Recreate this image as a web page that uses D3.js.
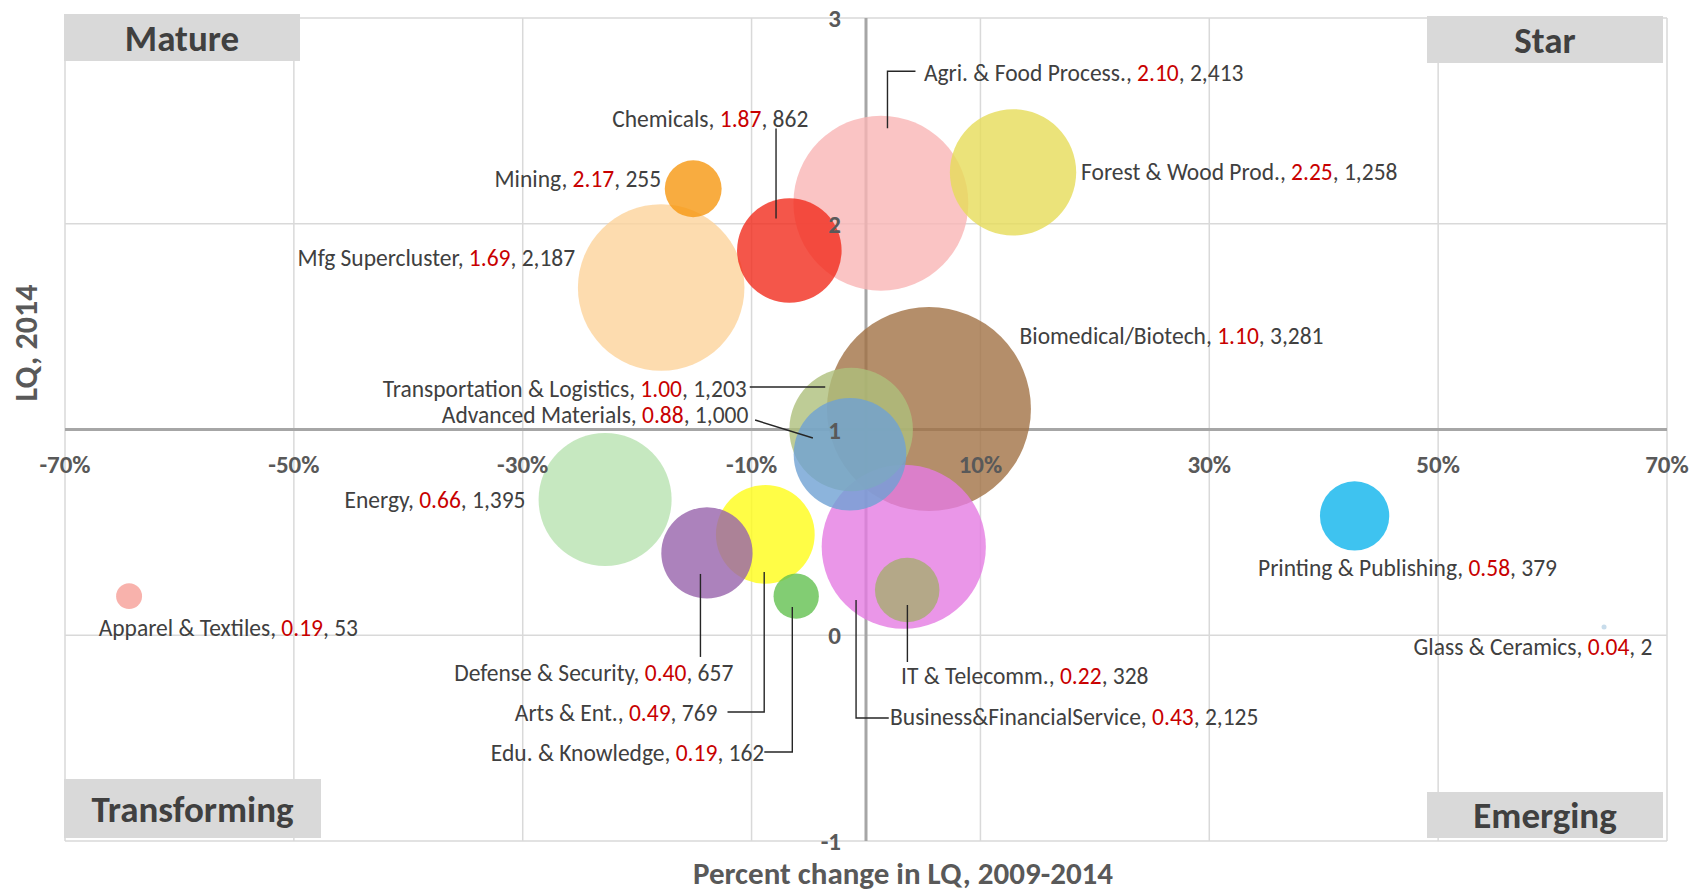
<!DOCTYPE html>
<html>
<head>
<meta charset="utf-8">
<script src="https://cdn.jsdelivr.net/npm/d3@7"></script>
<style>
  body { margin: 0; background: #fff; }
  text { font-family: Carlito, Calibri, Lato, sans-serif; }
</style>
</head>
<body>
<div id="chart"></div>
<script>
// cluster data: percent change in LQ 2009-2014 (x), LQ 2014 (y), employment (bubble size)
var clusters = ["Agri. & Food Process.", "Chemicals", "Mining", "Forest & Wood Prod.", "Mfg Supercluster",
    "Biomedical/Biotech", "Transportation & Logistics", "Advanced Materials", "Energy", "Printing & Publishing",
    "Apparel & Textiles", "Glass & Ceramics", "Defense & Security", "Arts & Ent.", "Edu. & Knowledge",
    "IT & Telecomm.", "Business&FinancialService"];
var pctChange = [1.3, -6.7, -15.1, 12.85, -17.9, 5.5, -1.3, -1.4, -22.8, 42.7, -64.4, 64.5, -13.9, -8.8, -6.1, 3.6, 3.3];
var lq2014 = [2.10, 1.87, 2.17, 2.25, 1.69, 1.10, 1.00, 0.88, 0.66, 0.58, 0.19, 0.04, 0.40, 0.49, 0.19, 0.22, 0.43];
var employment = [2413, 862, 255, 1258, 2187, 3281, 1203, 1000, 1395, 379, 53, 2, 657, 769, 162, 328, 2125];
var bubbleColors = ["#f9b5b5", "#f12c1d", "#f69710", "#e6dc59", "#fdd39b", "#a17245", "#aebf7c", "#6fa1d3",
    "#b8e2b0", "#0eb4ec", "#f69f97", "#bad3e6", "#9763ab", "#fffd18", "#63c150", "#a6ad6f", "#e57ce2"];

var xTicks = [-70, -50, -30, -10, 10, 30, 50, 70];
var yTicks = [-1, 0, 1, 2, 3];
var quadrantNames = ["Mature", "Star", "Transforming", "Emerging"];

// manual label placement (offsets from bubble centre, px) and leader lines
var labelLayout = [
    {dx: 43, dy: -130, anchor: "start", line: [[6.6, -75], [6.6, -132], [34.6, -132]]},
    {dx: 19, dy: -132, anchor: "end", line: [[-13.3, -122], [-13.3, -32]]},
    {dx: -32, dy: -10, anchor: "end"},
    {dx: 68, dy: -1, anchor: "start"},
    {dx: -86, dy: -29.5, anchor: "end"},
    {dx: 90.6, dy: -73, anchor: "start"},
    {dx: -104.4, dy: -41, anchor: "end", line: [[-101.4, -42.5], [-25.9, -42.5]]},
    {dx: -101.6, dy: -39.5, anchor: "end", line: [[-94.9, -34.2], [-37.1, -16.2]]},
    {dx: -79.6, dy: 0.5, anchor: "end"},
    {dx: -96.6, dy: 52, anchor: "start"},
    {dx: -30.4, dy: 31.5, anchor: "start"},
    {dx: 48.4, dy: 19.7, anchor: "end"},
    {dx: 26.4, dy: 120, anchor: "end", line: [[-6.5, 21], [-6.5, 104]]},
    {dx: -47.8, dy: 178.6, anchor: "end", line: [[-37.8, 177.6], [-1.1, 177.6], [-1.1, 37.6]]},
    {dx: -31.9, dy: 156.8, anchor: "end", line: [[-31.9, 155.8], [-3.9, 155.8], [-3.9, 10.8]]},
    {dx: -6.2, dy: 86, anchor: "start", line: [[0.2, 15], [0.2, 72]]},
    {dx: -13.7, dy: 170.2, anchor: "start", line: [[-47.7, 53.2], [-47.7, 171.2], [-15, 171.2]]}
];

var W = 1708, H = 891;
var plotL = 65, plotR = 1667, plotT = 18, plotB = 841;

var svg = d3.select("#chart")
    .append("svg")
    .attr("width", W)
    .attr("height", H);

var x = d3.scaleLinear().domain([-70, 70]).range([plotL, plotR]);
var y = d3.scaleLinear().domain([-1, 3]).range([plotB, plotT]);
var r = d3.scaleSqrt().domain([0, d3.max(employment)]).range([0, 102]);

var fmtLq = d3.format(".2f");
var fmtEmp = d3.format(",");

// gridlines
svg.append("g").selectAll("line")
    .data(xTicks)
    .enter().append("line")
    .attr("x1", function(d) { return x(d); })
    .attr("x2", function(d) { return x(d); })
    .attr("y1", plotT).attr("y2", plotB)
    .attr("stroke", "#d9d9d9")
    .attr("stroke-width", 1.5);

svg.append("g").selectAll("line")
    .data(yTicks.filter(function(d) { return d != 1; }))
    .enter().append("line")
    .attr("x1", plotL).attr("x2", plotR)
    .attr("y1", function(d) { return y(d); })
    .attr("y2", function(d) { return y(d); })
    .attr("stroke", "#d9d9d9")
    .attr("stroke-width", 1.5);

// main axes: horizontal at LQ = 1, vertical at 0%
svg.append("line")
    .attr("x1", plotL).attr("x2", plotR)
    .attr("y1", y(1)).attr("y2", y(1))
    .attr("stroke", "#a6a6a6").attr("stroke-width", 3);
svg.append("line")
    .attr("x1", x(0)).attr("x2", x(0))
    .attr("y1", plotT).attr("y2", plotB)
    .attr("stroke", "#a6a6a6").attr("stroke-width", 3);

// bubbles, largest drawn first
var idx = d3.range(clusters.length).sort(function(a, b) { return employment[b] - employment[a]; });

svg.append("g").selectAll("circle")
    .data(idx)
    .enter().append("circle")
    .attr("cx", function(i) { return x(pctChange[i]); })
    .attr("cy", function(i) { return y(lq2014[i]); })
    .attr("r", function(i) { return Math.max(r(employment[i]), 2.5); })
    .attr("fill", function(i) { return bubbleColors[i]; })
    .attr("fill-opacity", 0.8);

// tick labels
svg.append("g").selectAll("text")
    .data(xTicks)
    .enter().append("text")
    .attr("x", function(d) { return x(d); })
    .attr("y", y(1) + 43)
    .attr("text-anchor", "middle")
    .attr("font-size", "25px")
    .attr("font-weight", "bold")
    .attr("fill", "#595959")
    .text(function(d) { return d + "%"; });

svg.append("g").selectAll("text")
    .data(yTicks)
    .enter().append("text")
    .attr("x", x(0) - 25)
    .attr("y", function(d) { return y(d); })
    .attr("dy", "0.36em")
    .attr("text-anchor", "end")
    .attr("font-size", "25px")
    .attr("font-weight", "bold")
    .attr("fill", "#595959")
    .text(function(d) { return d; });

// leader lines
var lineGen = d3.line();
labelLayout.forEach(function(L, i) {
    if (!L.line) return;
    var cx = x(pctChange[i]), cy = y(lq2014[i]);
    svg.append("path")
        .attr("d", lineGen(L.line.map(function(p) { return [cx + p[0], cy + p[1]]; })))
        .attr("fill", "none")
        .attr("stroke", "#262626")
        .attr("stroke-width", 1.4);
});

// data labels
labelLayout.forEach(function(L, i) {
    var t = svg.append("text")
        .attr("x", x(pctChange[i]) + L.dx)
        .attr("y", y(lq2014[i]) + L.dy)
        .attr("dy", "0.35em")
        .attr("text-anchor", L.anchor)
        .attr("font-size", "23.5px")
        .attr("fill", "#404040");
    t.append("tspan").text(clusters[i] + ", ");
    t.append("tspan").attr("fill", "#c80000").text(fmtLq(lq2014[i]));
    t.append("tspan").text(", " + fmtEmp(employment[i]));
});

// quadrant boxes
var qBoxes = [
    {x: plotL - 1, y: plotT - 4, w: 236, h: 47},
    {x: plotR - 240, y: plotT - 2, w: 236, h: 47},
    {x: plotL - 1, y: plotB - 62, w: 257, h: 59},
    {x: plotR - 240, y: plotB - 49, w: 236, h: 46}
];
qBoxes.forEach(function(b, i) {
    svg.append("rect")
        .attr("x", b.x).attr("y", b.y)
        .attr("width", b.w).attr("height", b.h)
        .attr("fill", "#d9d9d9");
    svg.append("text")
        .attr("x", b.x + b.w / 2)
        .attr("y", b.y + b.h / 2)
        .attr("dy", "0.36em")
        .attr("text-anchor", "middle")
        .attr("font-size", "37px")
        .attr("font-weight", "bold")
        .attr("fill", "#404040")
        .text(quadrantNames[i]);
});

// axis titles
svg.append("text")
    .attr("x", 903)
    .attr("y", 873)
    .attr("dy", "0.35em")
    .attr("text-anchor", "middle")
    .attr("font-size", "31px")
    .attr("font-weight", "bold")
    .attr("fill", "#595959")
    .text("Percent change in LQ, 2009-2014");

svg.append("text")
    .attr("transform", "translate(26,343) rotate(-90)")
    .attr("dy", "0.35em")
    .attr("text-anchor", "middle")
    .attr("font-size", "32px")
    .attr("font-weight", "bold")
    .attr("fill", "#595959")
    .text("LQ, 2014");
</script>
</body>
</html>
